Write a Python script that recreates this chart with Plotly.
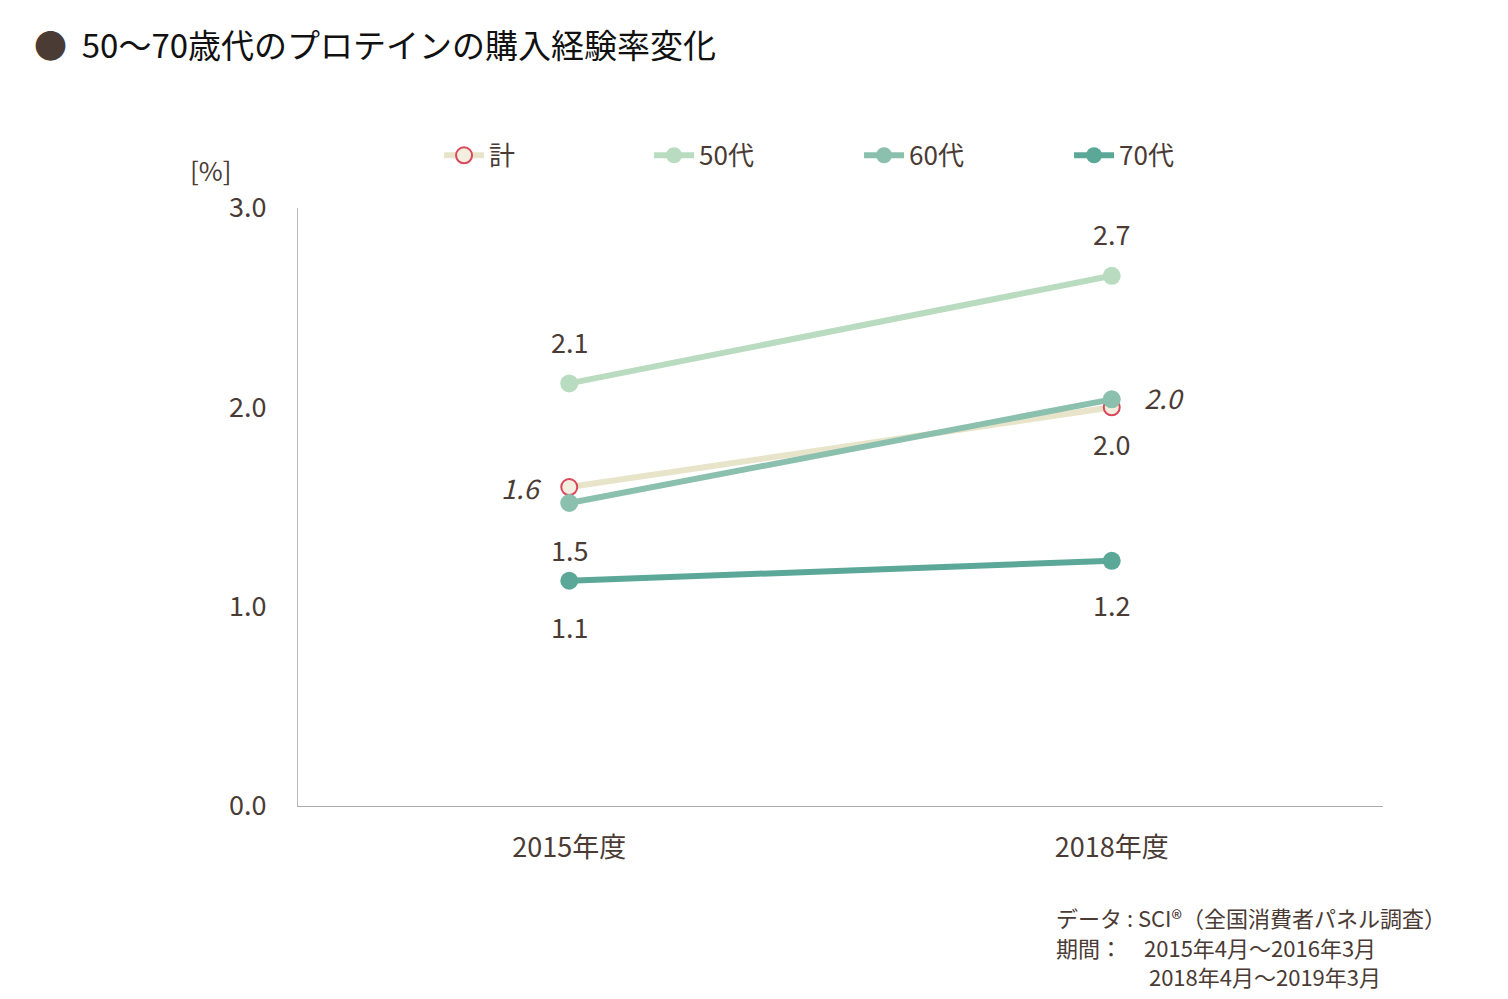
import plotly.graph_objects as go

years = ["2015年度", "2018年度"]
total = [1.6, 2.0]
s50 = [2.12, 2.66]
s60 = [1.52, 2.04]
s70 = [1.13, 1.23]
y_ticks = [0, 1, 2, 3]

TXT = "#4a3b35"
FONT = "Noto Sans CJK JP"

series = [
    ("計", total, "#E8E4C9"),
    ("50代", s50, "#B9DCC0"),
    ("60代", s60, "#8BBFAE"),
    ("70代", s70, "#5BA899"),
]

fig = go.Figure()
for name, vals, col in series:
    if name == "計":
        marker = dict(size=16, color="#F3EEDF", line=dict(color="#D9475A", width=2))
    else:
        marker = dict(size=18, color=col)
    fig.add_trace(go.Scatter(x=years, y=vals, name=name, mode="lines+markers",
                             line=dict(color=col, width=6), marker=marker))
# draw 50代 under others like reference: order fine

# value labels (placement per series: shift in px)
label_shift = {
    "50代": [(0, 42), (0, 42)],
    "計": [(-48, 0), (52, 10)],
    "60代": [(0, -46), (0, -44)],
    "70代": [(0, -46), (0, -44)],
}
for name, vals, col in series:
    for i, v in enumerate(vals):
        dx, dy = label_shift[name][i]
        t = f"<i>{v:.1f}</i>" if name == "計" else f"{v:.1f}"
        fig.add_annotation(x=years[i], y=v, text=t, showarrow=False,
                           xshift=dx, yshift=dy, font=dict(size=27, color=TXT))

fig.update_layout(
    width=1508, height=999,
    margin=dict(l=290, r=133, t=200, b=201),
    paper_bgcolor="white", plot_bgcolor="white",
    font=dict(family=FONT, color=TXT, size=26),
    showlegend=True,
    legend=dict(orientation="h", x=0.13, xanchor="left", y=1.088, yanchor="middle",
                font=dict(size=26, color=TXT), itemwidth=40,
                entrywidthmode="pixels", entrywidth=155),
    xaxis=dict(type="category", range=[-0.5, 1.5], showgrid=False, ticks="outside",
               ticklen=18, tickcolor="white",
               showline=True, linecolor="#aaaaaa", tickfont=dict(size=27, color=TXT)),
    yaxis=dict(range=[0, 3], tickvals=y_ticks, tickformat=".1f", showgrid=False,
               showline=True, linecolor="#bbbbbb", ticks="outside", ticklen=25,
               tickcolor="white",
               tickfont=dict(size=27, color=TXT), zeroline=False),
)
fig.update_traces(cliponaxis=False)

fig.add_annotation(text="<span style='color:#4a3b35'>●</span>  50～70歳代のプロテインの購入経験率変化",
                   xref="paper", yref="paper", x=-0.245, y=1.275, xanchor="left", yanchor="middle",
                   showarrow=False, font=dict(size=33, color="#111111"))
fig.add_annotation(text="[%]", xref="paper", yref="paper", x=-0.08, y=1.065,
                   xanchor="center", yanchor="middle", showarrow=False,
                   font=dict(size=26, color=TXT))
src_lines = ["データ : SCI®（全国消費者パネル調査）",
             "期間：　2015年4月～2016年3月",
             "　　　　 2018年4月～2019年3月"]
for i, s in enumerate(src_lines):
    fig.add_annotation(text=s, xref="paper", yref="paper", x=0.697, y=-0.185 - i * 0.05,
                       xanchor="left", yanchor="middle", showarrow=False,
                       font=dict(size=22, color=TXT))

fig.write_html("out.html")
